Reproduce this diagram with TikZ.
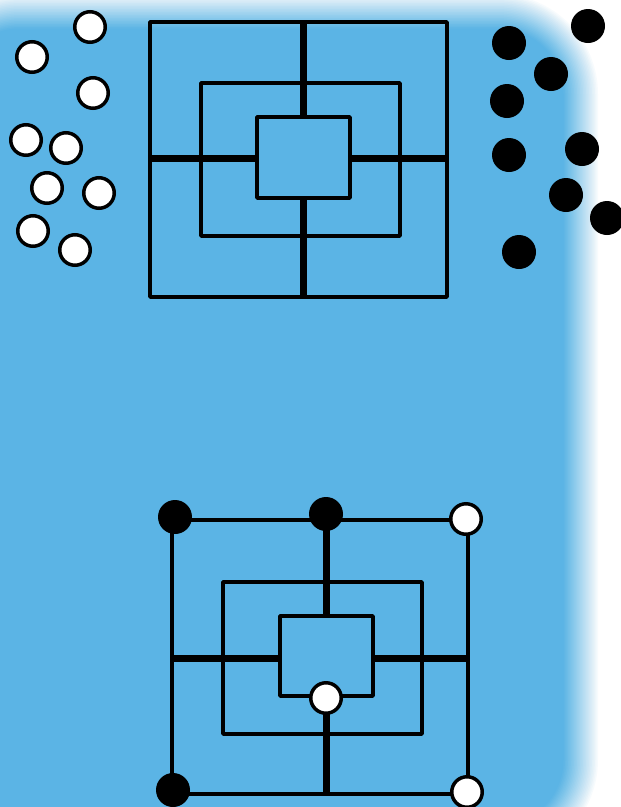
\documentclass[tikz,border=0pt]{standalone}
\definecolor{bg}{RGB}{91,180,229}
\tikzset{
  wpiece/.style={circle, fill=white, draw=black, line width=3.5pt, minimum size=30.5pt, inner sep=0pt},
  bpiece/.style={circle, fill=black, minimum size=34pt, inner sep=0pt},
  thinline/.style={line width=3.8pt, line join=round},
  thickline/.style={line width=7pt},
}
\begin{document}
\begin{tikzpicture}[x=1pt,y=-1pt]
\useasboundingbox (0,0) rectangle (621,807);
\fill[white] (0,0) rectangle (621,807);
% soft-edged blue background
\foreach \i in {1,...,24}{
  \pgfmathsetmacro\d{(\i-1)*1.5}
  \pgfmathsetmacro\op{1/(25-\i)}
  \pgfmathsetmacro\r{100-\d}
  \fill[bg, fill opacity=\op, rounded corners=\r pt] (-80+\d, -6+\d) rectangle (598-\d, 860-\d);
}
% ---- top board ----
\draw[thinline] (150,22) rectangle (447,297);
\draw[thinline] (201,83) rectangle (400,236);
\draw[thinline] (257,117) rectangle (350,198);
\draw[thickline] (303,22) -- (303,117);
\draw[thickline] (303,198) -- (303,297);
\draw[thickline] (150,158) -- (257,158);
\draw[thickline] (350,158) -- (447,158);
% white reserve pieces
\node[wpiece] (w1) at (90,27) {};
\node[wpiece] (w2) at (32,57) {};
\node[wpiece] (w3) at (93,93) {};
\node[wpiece] (w4) at (26,140) {};
\node[wpiece] (w5) at (66,148) {};
\node[wpiece] (w6) at (47,188) {};
\node[wpiece] (w7) at (99,193) {};
\node[wpiece] (w8) at (33,231) {};
\node[wpiece] (w9) at (75,250) {};
% black reserve pieces
\node[bpiece] (b1) at (588,26) {};
\node[bpiece] (b2) at (509,43) {};
\node[bpiece] (b3) at (551,74) {};
\node[bpiece] (b4) at (507,101) {};
\node[bpiece] (b5) at (509,155) {};
\node[bpiece] (b6) at (582,149) {};
\node[bpiece] (b7) at (566,195) {};
\node[bpiece] (b8) at (607,218) {};
\node[bpiece] (b9) at (519,252) {};
% ---- bottom board ----
\draw[thinline] (172,520) rectangle (468,794);
\draw[thinline] (223,582) rectangle (422,734);
\draw[thinline] (280,616) rectangle (373,696);
\draw[thickline] (326,520) -- (326,616);
\draw[thickline] (326,696) -- (326,794);
\draw[thickline] (172,658) -- (280,658);
\draw[thickline] (373,658) -- (468,658);
% pieces on the board
\node[bpiece] (p1) at (175,517) {};
\node[bpiece] (p2) at (326,514) {};
\node[wpiece] (p3) at (466,519) {};
\node[wpiece] (p4) at (326,698) {};
\node[bpiece] (p5) at (173,790) {};
\node[wpiece] (p6) at (467,792) {};
\end{tikzpicture}
\end{document}
